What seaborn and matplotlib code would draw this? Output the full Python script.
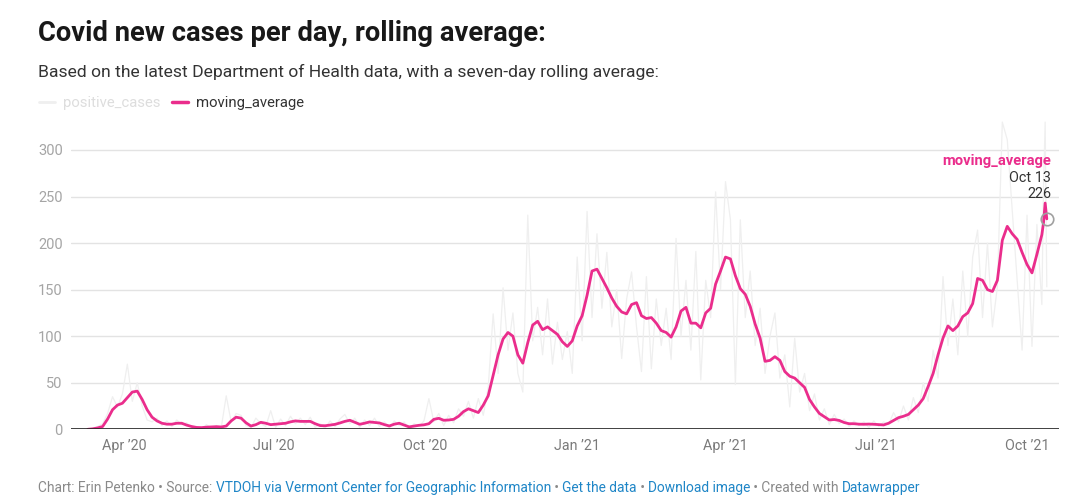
import pandas as pd
import matplotlib
matplotlib.use("Agg")
import matplotlib.pyplot as plt
from matplotlib.lines import Line2D
import seaborn as sns

# samples every 3 days from Mar 10 2020, plus the last three daily values
dates = list(pd.date_range("2020-03-10", "2021-10-10", freq="3D")) + list(
    pd.to_datetime(["2021-10-11", "2021-10-12", "2021-10-13"]))

moving_average = [
    0, 0.5, 1.5, 3, 11, 21, 26, 28, 34, 40,
    41, 32, 21, 13, 9, 6.5, 5.5, 5.5, 6.5, 6.5,
    4.5, 3, 2, 1.8, 2.3, 2.6, 2.8, 2.5, 3.5, 9,
    13, 12, 7, 3.5, 5, 7.5, 6.5, 5, 5.5, 6,
    6.5, 8, 9, 8.5, 8.5, 8.5, 6, 4, 3.8, 4.5,
    5.3, 6.8, 8.5, 9.7, 7.5, 5.4, 6.5, 7.9, 7.3, 6.8,
    5, 3.6, 5.5, 6.5, 4.5, 2.6, 3.5, 4.3, 4.8, 6,
    10.7, 11.8, 9.7, 10, 10.7, 14, 19, 22, 20, 18,
    26, 36, 58, 80, 97, 104, 100, 80, 71, 93,
    112, 116, 107, 110, 106, 102, 94, 89, 95, 111,
    122, 144, 170, 172, 162, 152, 141, 132, 126, 124,
    134, 136, 122, 119, 120, 114, 106, 104, 99, 110,
    127, 131, 114, 114, 109, 125, 130, 156, 170, 185,
    183, 165, 151, 145, 132, 113, 98, 73, 74, 78,
    74, 62, 57, 55, 50, 45, 32, 24, 17, 13.5,
    10, 10.5, 9.5, 7.3, 6, 6, 5.5, 5.4, 5.6, 5.4,
    5, 4.7, 6.5, 9.5, 12.5, 14, 16, 21, 26, 33,
    46, 60, 80, 98, 111, 106, 111, 121, 125, 135,
    162, 160, 150, 148, 160, 203, 218, 210, 204, 190,
    177, 168, 188, 209, 222, 243, 226,
]

positive_cases = [
    0, 1, 3, 6, 17, 35, 24, 38, 70, 30,
    50, 25, 10, 8, 12, 4, 9, 3, 10, 5,
    7, 1, 3, 0, 5, 1, 4, 2, 36, 8,
    17, 15, 4, 2, 12, 6, 3, 20, 2, 11,
    4, 14, 6, 12, 5, 13, 2, 6, 1, 9,
    3, 11, 16, 6, 12, 2, 10, 4, 12, 3,
    8, 1, 9, 4, 8, 0, 6, 3, 9, 33,
    8, 17, 4, 15, 7, 22, 14, 30, 12, 33,
    15, 45, 124, 60, 152, 85, 125, 60, 40, 230,
    95, 131, 80, 140, 70, 115, 75, 105, 60, 185,
    95, 234, 120, 210, 130, 190, 110, 150, 76, 140,
    169, 110, 62, 164, 65, 140, 90, 130, 75, 205,
    100, 160, 85, 191, 53, 160, 120, 255, 150, 266,
    225, 48, 225, 120, 170, 90, 130, 60, 100, 125,
    55, 80, 24, 98, 40, 60, 20, 38, 10, 22,
    5, 16, 6, 11, 3, 9, 4, 8, 2, 9,
    3, 8, 5, 18, 8, 25, 10, 34, 18, 50,
    30, 85, 55, 164, 90, 140, 80, 170, 100, 185,
    214, 120, 200, 110, 153, 330, 311, 236, 160, 85,
    230, 89, 220, 134, 260, 330, 153,
]

y_ticks = [0, 50, 100, 150, 200, 250, 300]
x_tick_dates = pd.to_datetime(["2020-04-01", "2020-07-01", "2020-10-01", "2021-01-01",
                               "2021-04-01", "2021-07-01", "2021-10-01"])
x_tick_labels = ["Apr \u201920", "Jul \u201920", "Oct \u201920", "Jan \u201921",
                 "Apr \u201921", "Jul \u201921", "Oct \u201921"]

PINK = "#ea2d8c"
FAINT = "#efefef"
W, H = 1081, 504

df = pd.DataFrame({"date": dates, "positive_cases": positive_cases,
                   "moving_average": moving_average})

sns.set_theme(style="white")
plt.rcParams["font.family"] = ["Roboto", "DejaVu Sans"]

fig = plt.figure(figsize=(W / 100, H / 100), dpi=100)
ax = fig.add_axes([71 / W, (H - 429.3) / H, (1059 - 71) / W, (429.3 - 117.4) / H])

sns.lineplot(data=df, x="date", y="positive_cases", ax=ax, color=FAINT, linewidth=0.9)
sns.lineplot(data=df, x="date", y="moving_average", ax=ax, color=PINK, linewidth=2.0)

ref = pd.Timestamp("2020-04-01")
ax.set_xlim(ref - pd.Timedelta(days=32.2), ref + pd.Timedelta(days=567.4))
ax.set_ylim(0, 335)
for s in ax.spines.values():
    s.set_visible(False)
ax.set_yticks(y_ticks)
ax.yaxis.grid(True, color="#e3e3e3", linewidth=1)
ax.set_axisbelow(True)
ax.axhline(0, color="#222222", linewidth=1.2, zorder=3)
ax.set_xticks(x_tick_dates)
ax.set_xticklabels(x_tick_labels)
ax.tick_params(axis="y", length=0, pad=6, labelcolor="#a5a5a5", labelsize=10.5)
ax.tick_params(axis="x", length=0, pad=7, labelcolor="#7a7a7a", labelsize=10.3)
ax.set_xlabel("")
ax.set_ylabel("")

# end-of-line annotation
last_d, last_v = dates[-1], moving_average[-1]
ax.plot([last_d], [last_v], marker="o", markersize=9, markerfacecolor="none",
        markeredgecolor="#a0a0a0", markeredgewidth=1.2, zorder=5)
fig.text(1051 / W, 1 - 161 / H, "moving_average", color=PINK, fontsize=10.6,
         weight="bold", ha="right", va="center")
fig.text(1051 / W, 1 - 177.5 / H, "Oct 13", color="#333333", fontsize=10.4,
         ha="right", va="center")
fig.text(1051 / W, 1 - 194 / H, f"{last_v:.0f}", color="#333333", fontsize=10.4,
         ha="right", va="center")

# headings
fig.text(38 / W, 1 - 41 / H, "Covid new cases per day, rolling average:",
         fontsize=19.7, weight="bold", color="#181818", va="baseline")
fig.text(38 / W, 1 - 77 / H,
         "Based on the latest Department of Health data, with a seven-day rolling average:",
         fontsize=12.6, color="#333333", va="baseline")

handles = [Line2D([], [], color=FAINT, linewidth=2), Line2D([], [], color=PINK, linewidth=2.5)]
leg = fig.legend(handles, ["positive_cases", "moving_average"], loc="center left",
                 bbox_to_anchor=(33 / W, 1 - 103 / H), ncol=2, frameon=False,
                 borderaxespad=0, handlelength=1.1, handletextpad=0.5,
                 columnspacing=0.8, fontsize=10.7)
leg.get_texts()[0].set_color("#dddddd")
leg.get_texts()[1].set_color("#333333")

# footer with link-coloured runs
GREY, BLUE = "#8a8a8a", "#1f86c7"
footer = [
    ("Chart: Erin Petenko \u2022 Source: ", GREY),
    ("VTDOH via Vermont Center for Geographic Information", BLUE),
    (" \u2022 ", GREY),
    ("Get the data", BLUE),
    (" \u2022 ", GREY),
    ("Download image", BLUE),
    (" \u2022 Created with ", GREY),
    ("Datawrapper", BLUE),
]
renderer = fig.canvas.get_renderer()
x = 38 / W
for txt, col in footer:
    t = fig.text(x, 1 - 492 / H, txt, color=col, fontsize=9.9, va="baseline")
    x += t.get_window_extent(renderer=renderer).width / fig.bbox.width

fig.savefig("out.png", dpi=100)
